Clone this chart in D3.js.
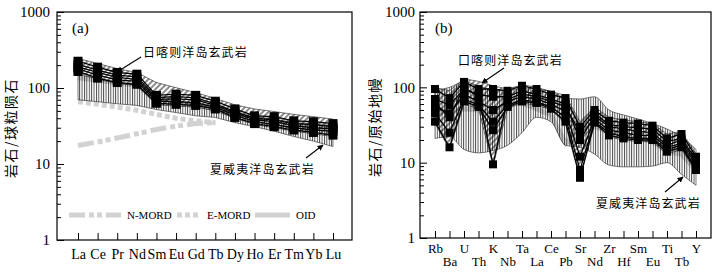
<!DOCTYPE html>
<html>
<head>
<meta charset="utf-8">
<script src="https://cdn.jsdelivr.net/npm/d3@7"></script>
<style>
  body { margin: 0; background: #fff; }
  svg { display: block; }
</style>
</head>
<body>
<svg id="chart" width="717" height="273"></svg>
<script>
// ---- DATA: panel (a) REE, chondrite normalised
const elemA = ["La", "Ce", "Pr", "Nd", "Sm", "Eu", "Gd", "Tb", "Dy", "Ho", "Er", "Tm", "Yb", "Lu"];
const samplesA = [
  [225, 188, 160, 152, 80, 83, 80, 67, 53, 43, 42, 37, 36, 34],
  [205, 172, 148, 140, 75, 77, 74, 62, 49, 40, 38, 34, 33, 31],
  [190, 160, 138, 130, 71, 72, 70, 59, 47, 38, 36, 32, 30, 29],
  [178, 148, 128, 122, 67, 66, 64, 56, 44, 36, 33, 30, 28, 27],
  [165, 135, 118, 112, 63, 61, 59, 53, 41, 34, 31, 28, 26, 24]
];
const rikazeUpperA = [245, 210, 180, 160, 118, 101, 87, 73, 60, 53, 49, 45, 42, 39];
const rikazeLowerA = [160, 130, 115, 108, 60, 58, 56, 50, 40, 33, 30, 27, 25, 23];
const hawaiiUpperA = [150, 133, 118, 110, 70, 66, 62, 55, 47, 42, 38.5, 35, 33, 32];
const hawaiiLowerA = [70, 66, 62, 59, 52, 47.5, 43, 41, 35, 31, 27, 23, 20, 17];
const nMordA = [17.5, 19.5, 22, 25, 28.5, 31.5, 34, 35, null, null, null, null, null, null];
const eMordA = [66, 61, 56, 51, 45, 40, 37, 35, null, null, null, null, null, null];
const oidA = [136, 126, 117, 109, 72, 66, 60, 54, 47, 42, 38, 35, 33, 31];

// ---- DATA: panel (b) spider, primitive mantle normalised
const elemB = ["Rb", "Ba", "U", "Th", "K", "Nb", "Ta", "La", "Ce", "Pb", "Sr", "Nd", "Zr", "Hf", "Sm", "Eu", "Ti", "Tb", "Y"];
const samplesB = [
  [95, 72, 118, 95, 95, 90, 105, 95, 80, 72, 30, 50, 36, 34, 33, 31, 21, 24, 12],
  [70, 58, 95, 80, 75, 75, 90, 80, 70, 60, 20, 42, 30, 28, 26, 25, 17, 20, 10],
  [55, 45, 80, 65, 50, 65, 75, 70, 60, 48, 12, 38, 27, 25, 23, 23, 16, 18, 9.5],
  [45, 25, 70, 58, 35, 58, 68, 64, 55, 40, 8, 35, 25, 22, 21, 21, 15, 17, 8.5],
  [35, 16, 65, 55, 27, 55, 65, 62, 52, 35, 6.3, 34, 23, 21, 20, 20, 14, 16, 8],
  [62, 40, 100, 75, 9.5, 70, 82, 75, 65, 55, 25, 45, 32, 30, 29, 28, 19, 21, 11]
];
const rikazeUpperB = [100, 90, 130, 120, 105, 95, 108, 100, 88, 78, 35, 55, 40, 37, 35, 33, 24, 26, 13];
const rikazeLowerB = [33, 15, 60, 52, 9, 52, 62, 58, 50, 33, 6, 33, 22, 20, 19, 19, 13, 15, 7.5];
const hawaiiUpperB = [90, 100, 118, 105, 92, 90, 98, 95, 88, 72, 70, 75, 50, 43, 38, 33, 28, 22, 15];
const hawaiiLowerB = [21, 22, 15, 13.5, 14.5, 17, 25, 40, 35, 17, 16, 13, 9.3, 8.8, 8.8, 9, 10, 7, 5];
const oidB = [45, 50, 52, 50, 45, 62, 62, 52, 43, 18, 28, 30, 26, 24, 22, 19, 14, 13, 8];

const legendItems = [
  { label: "N-MORD", dash: "16,4,5,3,5,4", x: 69, len: 52 },
  { label: "E-MORD", dash: "5,3", x: 177, len: 24 },
  { label: "OID", dash: null, x: 255, len: 35 }
];

// ---- SETUP
const svg = d3.select("#chart");
const grey = "#d2d2d2";
const SERIF = '"Liberation Serif", "DejaVu Serif", serif';
const CJK = '"Noto Sans CJK SC", sans-serif';

const defs = svg.append("defs");
defs.append("pattern")
  .attr("id", "vhatch")
  .attr("patternUnits", "userSpaceOnUse")
  .attr("width", 2.4).attr("height", 4)
  .append("line")
  .attr("x1", 0.5).attr("y1", 0).attr("x2", 0.5).attr("y2", 4)
  .attr("stroke", "#000").attr("stroke-width", 0.75);
defs.append("pattern")
  .attr("id", "dhatch")
  .attr("patternUnits", "userSpaceOnUse")
  .attr("width", 4).attr("height", 4)
  .attr("patternTransform", "rotate(45)")
  .append("line")
  .attr("x1", 1).attr("y1", 0).attr("x2", 1).attr("y2", 4)
  .attr("stroke", "#000").attr("stroke-width", 0.9);
defs.append("marker")
  .attr("id", "arrow")
  .attr("viewBox", "0 0 10 10")
  .attr("refX", 9).attr("refY", 5)
  .attr("markerWidth", 6).attr("markerHeight", 6)
  .attr("markerUnits", "userSpaceOnUse")
  .attr("orient", "auto")
  .append("path")
  .attr("d", "M0,0L10,5L0,10z")
  .attr("fill", "#000");

function panel(cfg) {
  const x = d3.scalePoint().domain(cfg.elems).range(cfg.xRange);
  const y = d3.scaleLog().domain([1, 1000]).range([cfg.frame.bottom, cfg.frame.top]);
  const g = svg.append("g");

  const line = (vals) =>
    d3.line()
      .defined((d) => d != null)
      .x((d, i) => x(cfg.elems[i]))
      .y((d) => y(d))(vals);

  // reference lines (grey)
  cfg.greys.forEach((s) => {
    g.append("path")
      .attr("d", line(s.values))
      .attr("fill", "none")
      .attr("stroke", grey)
      .attr("stroke-width", 5)
      .attr("stroke-dasharray", s.dash);
  });

  // envelopes
  const area = (upper, lower, curve) =>
    d3.area()
      .curve(curve)
      .x((d, i) => x(cfg.elems[i]))
      .y0((d, i) => y(lower[i]))
      .y1((d) => y(d))(upper);

  g.append("path")
    .attr("d", area(cfg.hawaiiUpper, cfg.hawaiiLower, cfg.curve))
    .attr("fill", "url(#vhatch)")
    .attr("stroke", "#222")
    .attr("stroke-width", 0.6);
  g.append("path")
    .attr("d", area(cfg.rikazeUpper, cfg.rikazeLower, d3.curveLinear))
    .attr("fill", "url(#dhatch)")
    .attr("stroke", "#222")
    .attr("stroke-width", 0.6);

  // samples
  cfg.samples.forEach((s) => {
    g.append("path")
      .attr("d", line(s))
      .attr("fill", "none")
      .attr("stroke", "#000")
      .attr("stroke-width", 1.3);
  });
  cfg.samples.forEach((s) => {
    g.selectAll(null)
      .data(s)
      .join("rect")
      .attr("x", (d, i) => x(cfg.elems[i]) - cfg.sq / 2)
      .attr("y", (d) => y(d) - cfg.sq / 2)
      .attr("width", cfg.sq)
      .attr("height", cfg.sq)
      .attr("fill", "#000");
  });

  // frame
  const f = cfg.frame;
  g.append("rect")
    .attr("x", f.left).attr("y", f.top)
    .attr("width", f.right - f.left).attr("height", f.bottom - f.top)
    .attr("fill", "none").attr("stroke", "#000").attr("stroke-width", 1.2);

  // y axis, ticks pointing inward
  const minors = [];
  for (let p = 1; p < 1000; p *= 10) for (let k = 2; k <= 9; k++) minors.push(p * k);
  g.append("g")
    .attr("transform", `translate(${f.left},0)`)
    .call(d3.axisLeft(y).tickValues(minors).tickSize(-4).tickFormat(""))
    .call((a) => a.select(".domain").remove());
  g.append("g")
    .attr("transform", `translate(${f.left},0)`)
    .call(d3.axisLeft(y).tickValues([1, 10, 100, 1000]).tickSize(-7).tickPadding(cfg.yPad).tickFormat(d3.format("d")))
    .call((a) => a.select(".domain").remove())
    .call((a) => a.selectAll("text")
      .style("font-family", SERIF).attr("font-size", 15).attr("fill", "#000"));

  // x axis
  const gx = g.append("g")
    .attr("transform", `translate(0,${f.bottom})`)
    .call(d3.axisBottom(x).tickSize(-7).tickPadding(9))
    .call((a) => a.select(".domain").remove());
  gx.selectAll("text")
    .style("font-family", SERIF)
    .attr("font-size", cfg.xFont)
    .attr("fill", "#000");
  if (cfg.twoRows) {
    gx.selectAll("text")
      .attr("dy", null)
      .attr("y", (d, i) => (i % 2 ? 28 : 15));
  }
  g.selectAll(".tick line").attr("stroke", "#000");

  // axis title
  g.append("text")
    .style("font-family", CJK)
    .attr("transform", `translate(${cfg.titleX},${(f.top + f.bottom) / 2 + 2}) rotate(-90)`)
    .attr("text-anchor", "middle")
    .attr("font-size", 14)
    .attr("letter-spacing", 1.5)
    .text(cfg.title);

  // panel tag
  g.append("text")
    .style("font-family", SERIF)
    .attr("x", f.left + 15).attr("y", 33)
    .attr("font-size", 15)
    .text(cfg.tag);

  // annotations
  cfg.notes.forEach((n) => {
    g.append("text")
      .style("font-family", CJK)
      .attr("x", n.tx).attr("y", n.ty)
      .attr("font-size", 12)
      .attr("letter-spacing", 1.1)
      .text(n.text);
    g.append("line")
      .attr("x1", n.from[0]).attr("y1", n.from[1])
      .attr("x2", n.to[0]).attr("y2", n.to[1])
      .attr("stroke", "#000").attr("stroke-width", 1.1)
      .attr("marker-end", "url(#arrow)");
  });

  return g;
}

const ga = panel({
  elems: elemA,
  xRange: [78, 333],
  frame: { left: 57, right: 352, top: 12, bottom: 240 },
  samples: samplesA,
  rikazeUpper: rikazeUpperA, rikazeLower: rikazeLowerA,
  hawaiiUpper: hawaiiUpperA, hawaiiLower: hawaiiLowerA,
  curve: d3.curveLinear,
  greys: [
    { values: oidA, dash: null },
    { values: eMordA, dash: "5,3" },
    { values: nMordA, dash: "16,4,5,3,5,4" }
  ],
  sq: 9,
  yPad: 7,
  xFont: 14,
  twoRows: false,
  titleX: 16,
  title: "岩石/球粒陨石",
  tag: "(a)",
  notes: [
    { text: "日喀则洋岛玄武岩", tx: 143, ty: 57, from: [141, 57], to: [117, 72] },
    { text: "夏威夷洋岛玄武岩", tx: 210, ty: 174, from: [306, 158], to: [323, 145] }
  ]
});

// legend of panel (a)
legendItems.forEach((l) => {
  ga.append("line")
    .attr("x1", l.x).attr("x2", l.x + l.len)
    .attr("y1", 215).attr("y2", 215)
    .attr("stroke", grey).attr("stroke-width", 5)
    .attr("stroke-dasharray", l.dash);
  ga.append("text")
    .style("font-family", SERIF)
    .attr("x", l.x + l.len + 6).attr("y", 219)
    .attr("font-size", 11)
    .text(l.label);
});

panel({
  elems: elemB,
  xRange: [435, 696],
  frame: { left: 420, right: 711, top: 12, bottom: 238 },
  samples: samplesB,
  rikazeUpper: rikazeUpperB, rikazeLower: rikazeLowerB,
  hawaiiUpper: hawaiiUpperB, hawaiiLower: hawaiiLowerB,
  curve: d3.curveMonotoneX,
  greys: [{ values: oidB, dash: null }],
  sq: 8,
  yPad: 5,
  xFont: 13,
  twoRows: true,
  titleX: 380,
  title: "岩石/原始地幔",
  tag: "(b)",
  notes: [
    { text: "口喀则洋岛玄武岩", tx: 458, ty: 65, from: [504, 68], to: [482, 83] },
    { text: "夏威夷洋岛玄武岩", tx: 596, ty: 208, from: [665, 192], to: [683, 177] }
  ]
});
</script>
</body>
</html>
